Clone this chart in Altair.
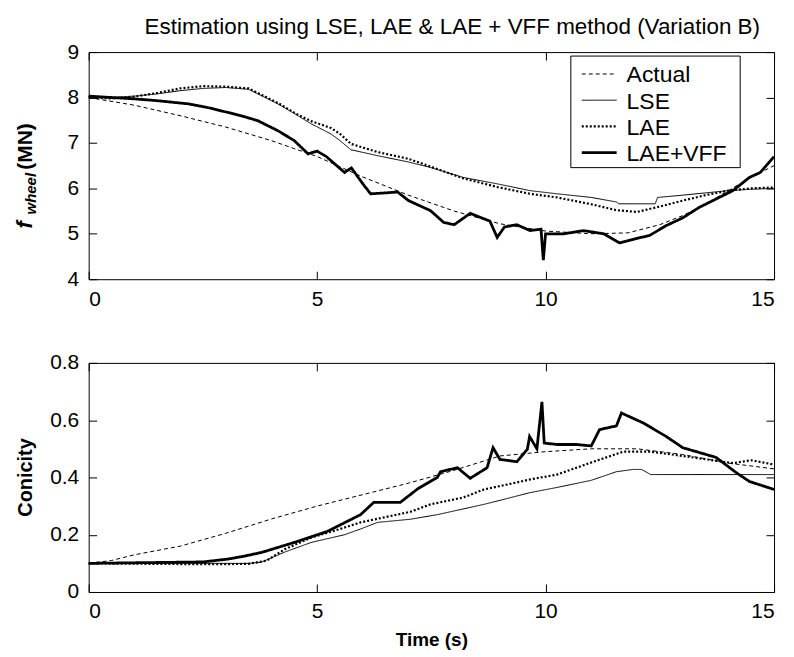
import altair as alt
import pandas as pd

TITLE = "Estimation using LSE, LAE & LAE + VFF method (Variation B)"
SERIES = ["Actual", "LSE", "LAE", "LAE+VFF"]
X_TICKS = [0, 5, 10, 15]
TOP_Y_TICKS = [4, 5, 6, 7, 8, 9]
BOT_Y_TICKS = [0, 0.2, 0.4, 0.6, 0.8]
X_LABEL = "Time (s)"
BOT_Y_LABEL = "Conicity"

# ---------------- top panel: f_wheel (MN) ----------------
top_actual_t = [0, 1, 2, 3, 4, 5, 6, 7, 8, 9, 10, 11, 11.8, 12.5, 13, 13.5, 14, 14.5, 15]
top_actual_v = [8.0, 7.83, 7.6, 7.35, 7.05, 6.7, 6.25, 5.85, 5.5, 5.22, 5.06, 5.0, 5.02, 5.2, 5.4, 5.65, 5.95, 6.25, 6.5]

top_lse_t = [0, 0.5, 1, 1.5, 2, 2.5, 3, 3.5, 3.7, 4.14, 4.58, 4.87, 5.3, 5.5, 5.74, 6.32, 7, 7.48, 8.2, 8.94,
             9.66, 10.25, 11, 11.55, 11.6, 12.4, 12.45, 13, 13.5, 14, 14.5, 15]
top_lse_v = [8.02, 8.0, 8.03, 8.08, 8.15, 8.2, 8.22, 8.18, 8.08, 7.86, 7.6, 7.42, 7.2, 7.05, 6.85, 6.72, 6.58, 6.46, 6.24, 6.1,
             5.95, 5.88, 5.8, 5.7, 5.66, 5.66, 5.8, 5.85, 5.9, 5.95, 5.98, 6.0]

top_lae_t = [0, 0.5, 1, 1.5, 2, 2.5, 3, 3.5, 3.7, 4.14, 4.58, 4.87, 5.3, 5.5, 5.74, 6.32, 7, 7.48, 8.2, 8.94,
             9.66, 10.25, 11, 11.55, 12, 12.5, 13, 13.5, 14, 14.5, 15]
top_lae_v = [8.0, 7.98, 8.02, 8.1, 8.2, 8.25, 8.24, 8.2, 8.1, 7.88, 7.62, 7.48, 7.33, 7.2, 6.98, 6.8, 6.65, 6.48, 6.22, 6.03,
             5.88, 5.8, 5.65, 5.52, 5.48, 5.6, 5.73, 5.85, 5.95, 6.0, 6.02]

top_vff_t = [0, 0.5, 1, 1.5, 2.18, 2.6, 3.05, 3.4, 3.7, 4.14, 4.5, 4.8, 5.0, 5.2, 5.6, 5.75, 6.0, 6.17, 6.5, 6.76,
             7.0, 7.48, 7.77, 8.0, 8.35, 8.6, 8.78, 8.94, 9.1, 9.37, 9.66, 9.9, 9.95, 10.0, 10.4, 10.83, 11.27,
             11.62, 12.0, 12.27, 12.64, 13.0, 13.36, 13.7, 14.1, 14.46, 14.7, 15]
top_vff_v = [8.03, 8.0, 7.97, 7.93, 7.86, 7.78, 7.67, 7.58, 7.49, 7.27, 7.05, 6.76, 6.82, 6.7, 6.35, 6.45, 6.1, 5.88, 5.9, 5.92,
             5.73, 5.51, 5.25, 5.2, 5.45, 5.35, 5.28, 4.92, 5.15, 5.2, 5.07, 5.1, 4.42, 5.0, 5.0, 5.07, 5.0,
             4.8, 4.9, 4.96, 5.18, 5.35, 5.58, 5.75, 5.95, 6.24, 6.35, 6.7]

# ---------------- bottom panel: Conicity ----------------
bot_actual_t = [0, 0.5, 1, 2, 3, 4, 5, 6, 7, 8, 8.5, 9, 10, 11, 12, 13, 14, 15]
bot_actual_v = [0.1, 0.11, 0.13, 0.16, 0.205, 0.255, 0.3, 0.34, 0.38, 0.425, 0.45, 0.475, 0.49, 0.5, 0.5, 0.48, 0.45, 0.43]

bot_lse_t = [0, 3.5, 3.78, 4.3, 4.87, 5.6, 5.95, 6.32, 7.04, 7.63, 8.65, 9.0, 9.66, 10.25, 11, 11.55, 11.92, 12.1, 12.3, 15]
bot_lse_v = [0.1, 0.1, 0.104, 0.14, 0.173, 0.2, 0.22, 0.243, 0.254, 0.27, 0.306, 0.32, 0.347, 0.365, 0.39, 0.42, 0.428, 0.428, 0.41, 0.41]

bot_lae_t = [0, 2.5, 3.5, 3.9, 4.3, 4.87, 5.5, 5.95, 7.04, 7.48, 8.2, 8.65, 9.3, 9.66, 10.25, 11.05, 11.7, 12.3, 13, 14.1, 14.5, 15]
bot_lae_v = [0.1, 0.097, 0.098, 0.11, 0.15, 0.19, 0.22, 0.243, 0.28, 0.306, 0.33, 0.358, 0.38, 0.393, 0.41, 0.455, 0.49, 0.49, 0.475, 0.45, 0.46, 0.445]

bot_vff_t = [0, 2.5, 3.05, 3.4, 3.78, 4.5, 5.23, 5.95, 6.24, 6.82, 7.2, 7.63, 7.7, 8.07, 8.35, 8.72, 8.85, 9.0, 9.37,
             9.6, 9.65, 9.81, 9.92, 9.97, 10.25, 10.68, 11.0, 11.18, 11.55, 11.66, 12.14, 12.64, 13.0, 13.73, 14.17, 14.46, 15]
bot_vff_v = [0.1, 0.105, 0.115, 0.125, 0.138, 0.173, 0.212, 0.27, 0.313, 0.313, 0.36, 0.4, 0.42, 0.434, 0.397, 0.434, 0.504, 0.463, 0.455,
             0.498, 0.543, 0.5, 0.664, 0.52, 0.515, 0.515, 0.51, 0.567, 0.58, 0.625, 0.59, 0.543, 0.504, 0.47, 0.417, 0.386, 0.358]

# ---------------- styles ----------------
FONT = "Liberation Sans"
DASHES = [[4, 3], [1, 0], [2, 2], [1, 0]]
WIDTHS = [1.0, 1.0, 2.2, 2.8]
W, H_TOP, H_BOT = 688, 228, 230


def long_df(pairs):
    rows = []
    for name, (ts, vs) in zip(SERIES, pairs):
        for t, v in zip(ts, vs):
            rows.append({"series": name, "t": t, "v": v})
    return pd.DataFrame(rows)


top_df = long_df([(top_actual_t, top_actual_v), (top_lse_t, top_lse_v),
                  (top_lae_t, top_lae_v), (top_vff_t, top_vff_v)])
bot_df = long_df([(bot_actual_t, bot_actual_v), (bot_lse_t, bot_lse_v),
                  (bot_lae_t, bot_lae_v), (bot_vff_t, bot_vff_v)])
one = pd.DataFrame({"k": [0]})

TICK = 8
common_axis = dict(grid=False, domain=False, tickSize=TICK, offset=-TICK, tickColor="black",
                   tickWidth=1, labelFont=FONT, labelFontSize=21, labelColor="black")


def text_mark(txt, x, y, size, weight="bold", style="normal", align="left", angle=270):
    return alt.Chart(one).mark_text(text=txt, font=FONT, fontSize=size, fontWeight=weight,
                                    fontStyle=style, angle=angle, align=align,
                                    baseline="alphabetic", color="black").encode(
        x=alt.value(x), y=alt.value(y))


def panel(df, ydomain, yticks, ylabel_expr, height, xtitle, extra):
    xs = alt.Scale(domain=[0, 15], nice=False, zero=False)
    ys = alt.Scale(domain=ydomain, nice=False, zero=False)
    xax = alt.Axis(values=X_TICKS, orient="bottom", labelPadding=9, format="d",
                   title=xtitle if xtitle else None, titleFont=FONT, titleFontSize=19,
                   titleFontWeight="bold", titleColor="black", titlePadding=9, **common_axis)
    yax = alt.Axis(values=yticks, orient="left", labelPadding=10, labelExpr=ylabel_expr, title=None,
                   **common_axis)
    lines = alt.Chart(df).mark_line(color="black").encode(
        x=alt.X("t:Q", scale=xs, axis=xax),
        y=alt.Y("v:Q", scale=ys, axis=yax),
        strokeDash=alt.StrokeDash("series:N", scale=alt.Scale(domain=SERIES, range=DASHES), legend=None),
        strokeWidth=alt.StrokeWidth("series:N", scale=alt.Scale(type="ordinal", domain=SERIES, range=WIDTHS),
                                    legend=None),
    )
    mirror = alt.Chart(df).mark_point(opacity=0).encode(
        x=alt.X("t:Q", axis=alt.Axis(values=X_TICKS, orient="top", labels=False, title=None, **common_axis)),
        y=alt.Y("v:Q", axis=alt.Axis(values=yticks, orient="right", labels=False, title=None, **common_axis)),
    )
    return alt.layer(lines, mirror, *extra).resolve_axis(x="independent", y="independent").properties(
        width=W, height=height)


# y label of the top panel: f_wheel (MN)
top_label = [
    text_mark("f", -57, 177, 22, style="italic"),
    text_mark("wheel", -53, 163, 15, style="italic"),
    text_mark("(MN)", -57, 118, 21),
]

# legend (inside top panel)
LEG_X, LEG_Y, LEG_W, LEG_H = 484, 4, 170, 112
legend_parts = [alt.Chart(one).mark_rect(fill="white", stroke="black", strokeWidth=1).encode(
    x=alt.value(LEG_X), x2=alt.value(LEG_X + LEG_W), y=alt.value(LEG_Y), y2=alt.value(LEG_Y + LEG_H))]
for i, name in enumerate(SERIES):
    cy = LEG_Y + 18 + 26.3 * i
    legend_parts.append(alt.Chart(one).mark_rule(color="black", strokeDash=DASHES[i], strokeWidth=WIDTHS[i]).encode(
        x=alt.value(LEG_X + 11), x2=alt.value(LEG_X + 46), y=alt.value(cy)))
    legend_parts.append(text_mark(name, LEG_X + 56, cy + 8.5, 23, weight="normal", angle=0))

top = panel(top_df, [4, 9], TOP_Y_TICKS, "format(datum.value, 'd')", H_TOP, None,
            top_label + legend_parts).properties(
    title=alt.Title(TITLE, font=FONT, fontSize=22.5, fontWeight="normal", color="black",
                    anchor="middle", frame="group", offset=3, dx=21))

bot_label = [text_mark(BOT_Y_LABEL, -57, H_BOT / 2, 20, align="center")]
bottom = panel(bot_df, [0, 0.8], BOT_Y_TICKS,
               "datum.value == 0 ? '0' : format(datum.value, '.1f')", H_BOT, X_LABEL, bot_label)

chart = alt.vconcat(top, bottom, spacing=41).properties(
    padding={"left": 5, "top": 6, "right": 5, "bottom": 5}, background="white"
).configure_view(stroke="black", strokeWidth=1)

chart.save("out.html", embed_options={"renderer": "svg", "actions": False})
